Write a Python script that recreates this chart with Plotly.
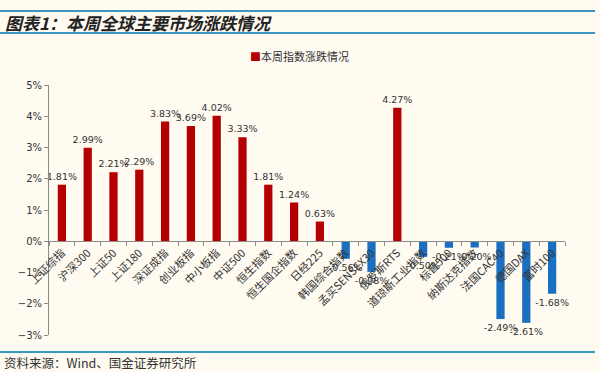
import plotly.graph_objects as go

categories = ["上证综指", "沪深300", "上证50", "上证180", "深证成指", "创业板指", "中小板指",
              "中证500", "恒生指数", "恒生国企指数", "日经225", "韩国综合指数", "孟买SENSEX30",
              "俄罗斯RTS", "道琼斯工业指数", "标普500", "纳斯达克指数", "法国CAC40", "德国DAX", "富时100"]
values = [1.81, 2.99, 2.21, 2.29, 3.83, 3.69, 4.02, 3.33, 1.81, 1.24, 0.63, -0.56, -0.98,
          4.27, -0.50, -0.21, -0.20, -2.49, -2.61, -1.68]
series_name = "本周指数涨跌情况"
pos_color = "#B40000"
neg_color = "#1A6FC0"
colors = [pos_color if v >= 0 else neg_color for v in values]

BG = "#FFFBF1"
FONT = "DejaVu Sans, Noto Sans CJK SC, sans-serif"
CJK = "Noto Sans CJK SC, sans-serif"
LINE = "#3C97C0"

fig = go.Figure()
fig.add_trace(go.Bar(
    x=categories, y=values, name=series_name,
    marker=dict(color=colors, line=dict(width=0)),
    texttemplate="%{y:.2f}%", textposition="outside", constraintext="none",
    textfont=dict(family=FONT, size=9.5, color="#333333"),
    cliponaxis=False, showlegend=False,
))

fig.update_layout(
    width=600, height=372,
    margin=dict(l=49, r=35, t=85, b=37, autoexpand=False),
    paper_bgcolor=BG, plot_bgcolor=BG,
    bargap=0.68,
    font=dict(family=FONT, size=10, color="#333333"),
    showlegend=False,
    xaxis=dict(type="category", anchor="free", position=3 / 8,
               showline=True, linecolor="#8c8c8c", linewidth=1,
               ticks="outside", tickson="boundaries", ticklen=4, tickcolor="#8c8c8c",
               tickangle=-45, tickfont=dict(family=CJK, size=11, color="#333333"),
               showgrid=False, zeroline=False, fixedrange=True),
    yaxis=dict(range=[-3, 5], dtick=1, ticksuffix="%", showline=True, linecolor="#8c8c8c",
               linewidth=1, ticks="outside", ticklen=4, tickcolor="#8c8c8c",
               showgrid=False, zeroline=False, tickfont=dict(family=FONT, size=10, color="#333333")),
)

def px_to_paper_x(px):
    return (px - 49) / 516

def px_to_paper_y(py):
    return (335 - py) / 250

for py in (11, 33, 352):
    fig.add_shape(type="line", xref="paper", yref="paper",
                  x0=px_to_paper_x(0), x1=px_to_paper_x(595),
                  y0=px_to_paper_y(py), y1=px_to_paper_y(py),
                  line=dict(color=LINE, width=2))

# title
fig.add_annotation(text="图表1：本周全球主要市场涨跌情况", xref="paper", yref="paper",
                   x=px_to_paper_x(3), y=px_to_paper_y(22), xanchor="left", yanchor="middle",
                   showarrow=False,
                   font=dict(family=CJK, size=17, color="#222222", weight="bold", style="italic"))

# legend (series key)
fig.add_annotation(text=f"<span style='color:{pos_color}'>■</span>{series_name}",
                   xref="paper", yref="paper",
                   x=px_to_paper_x(248), y=px_to_paper_y(56), xanchor="left", yanchor="middle",
                   showarrow=False, font=dict(family=CJK, size=11, color="#333333"))

# source
fig.add_annotation(text="资料来源：Wind、国金证券研究所", xref="paper", yref="paper",
                   x=px_to_paper_x(2), y=px_to_paper_y(362), xanchor="left", yanchor="middle",
                   showarrow=False, font=dict(family=CJK, size=12.5, color="#333333"))

fig.write_html("out.html", config={"displayModeBar": False},
               post_script="document.body.style.margin='0px';")
